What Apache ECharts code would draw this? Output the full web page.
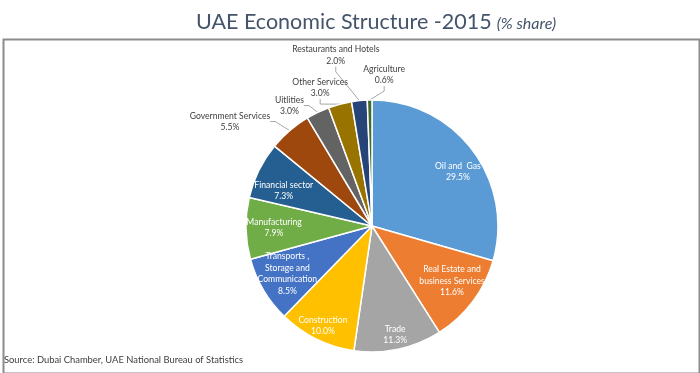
<!DOCTYPE html>
<html>
<head>
<meta charset="utf-8">
<script src="https://cdn.jsdelivr.net/npm/echarts@6/dist/echarts.min.js"></script>
<style>
html,body{margin:0;padding:0;background:#fff;}
#chart{width:700px;height:373px;}
</style>
</head>
<body>
<div id="chart"></div>
<script>
const categories = ['Oil and  Gas', 'Real Estate and\nbusiness Services', 'Trade', 'Construction',
  'Transports ,\nStorage and\nCommunication', 'Manufacturing', 'Financial sector',
  'Government Services', 'Uitlities', 'Other Services', 'Restaurants and Hotels', 'Agriculture'];
const shares = [29.5, 11.6, 11.3, 10.0, 8.5, 7.9, 7.3, 5.5, 3.0, 3.0, 2.0, 0.6];
const insideNear = [true, true, false, false, true, true, true, false, false, false, false, false];
const insideFar = [false, false, true, true, false, false, false, false, false, false, false, false];
const outside = [false, false, false, false, false, false, false, true, true, true, true, true];

// styling
const colors = ['#5B9BD5', '#ED7D31', '#A5A5A5', '#FFC000', '#4472C4', '#70AD47',
  '#255E91', '#9E480E', '#636363', '#997300', '#264478', '#43682B'];
// pixel nudges of labels relative to ECharts' default placement (Excel-like best-fit)
const outerNudge = {7: [-3, -1.5], 8: [0.5, 2.3], 9: [20.6, -6.9], 10: [31, -35.4], 11: [45.6, -15.5]};
const innerNudge = {0: [6, 6], 1: [0, -5], 4: [1.5, -3], 5: [2, 0], 6: [1.5, 9]};

const FONT = 'Lato';
const FS = 8.6, LH = 11.5;
const CENTER = [372, 226], R = 126;
const fmt = p => '{c|' + p.name.split('\n').join('}\n{c|') + '}\n{c|' + p.value.toFixed(1) + '%}';

function nudger(map) {
  return function (p) {
    const o = map[p.dataIndex];
    if (!o) return {};
    const r = p.labelRect;
    return {x: r.x + r.width / 2 + o[0], y: r.y + r.height / 2 + o[1],
      align: 'center', verticalAlign: 'middle'};
  };
}

const chart = echarts.init(document.getElementById('chart'), null, {renderer: 'canvas'});

function labelSeries(flags, r0, r1) {
  return {
    type: 'pie', silent: true, center: CENTER, radius: [r0, r1],
    startAngle: 90, clockwise: true, animation: false,
    emphasis: {disabled: true},
    itemStyle: {color: 'rgba(0,0,0,0)', borderWidth: 0},
    labelLine: {show: false},
    labelLayout: nudger(innerNudge),
    data: categories.map((n, i) => ({
      name: n, value: shares[i],
      label: {show: flags[i], position: 'inside', formatter: fmt,
        color: '#fff', fontFamily: FONT, fontSize: FS, lineHeight: LH,
        rich: {c: {align: 'center', color: '#fff', fontFamily: FONT, fontSize: FS, lineHeight: LH}}}
    }))
  };
}

chart.setOption({
  animation: false,
  title: {
    text: '{m|UAE Economic Structure -2015} {s|(% share)}',
    left: 191, top: 6,
    textStyle: {rich: {
      m: {fontFamily: FONT, fontSize: 21.5, fontWeight: 'normal', color: '#44546A'},
      s: {fontFamily: FONT, fontSize: 16, fontWeight: 'normal', fontStyle: 'italic', color: '#44546A', padding: [3, 0, 0, 0]}
    }}
  },
  graphic: [{
    type: 'rect', left: 1, top: 37,
    shape: {width: 696, height: 334},
    style: {fill: 'none', stroke: '#8c8c8c', lineWidth: 2}
  }, {
    type: 'text', left: 4, top: 355,
    style: {text: 'Source: Dubai Chamber, UAE National Bureau of Statistics',
      fill: '#404040', font: '9.4px ' + FONT}
  }],
  series: [{
    type: 'pie', center: CENTER, radius: [0, R],
    startAngle: 90, clockwise: true, animation: false,
    avoidLabelOverlap: false,
    emphasis: {disabled: true},
    itemStyle: {borderColor: '#fff', borderWidth: 1.5},
    labelLine: {length: 10, length2: 5, lineStyle: {color: '#a6a6a6', width: 1}},
    labelLayout: nudger(outerNudge),
    data: categories.map((n, i) => ({
      name: n, value: shares[i],
      itemStyle: {color: colors[i]},
      label: {show: outside[i], position: 'outside', formatter: fmt,
        color: '#404040', fontFamily: FONT, fontSize: FS, lineHeight: LH,
        rich: {c: {align: 'center', color: '#404040', fontFamily: FONT, fontSize: FS, lineHeight: LH}}},
      labelLine: {show: outside[i]}
    }))
  },
  labelSeries(insideNear, 68, R),
  labelSeries(insideFar, 90, R)
  ]
});
</script>
</body>
</html>
